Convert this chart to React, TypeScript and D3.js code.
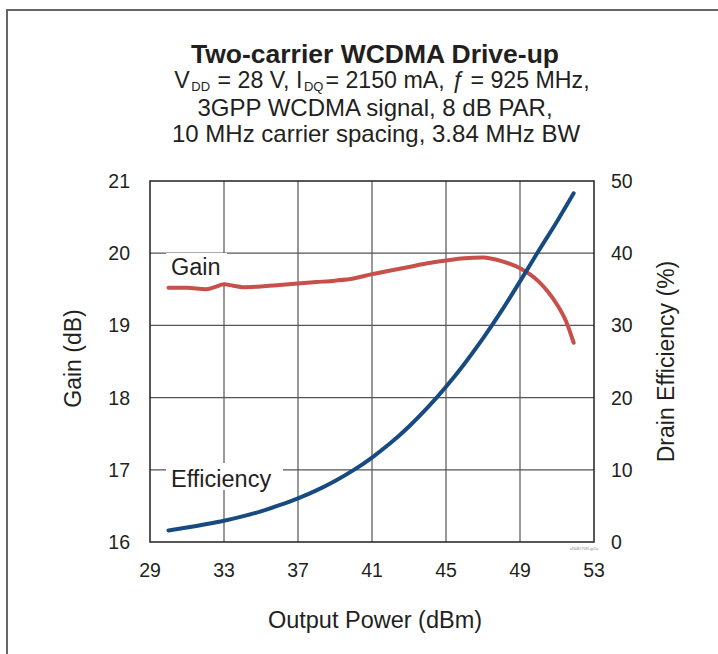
import React from "react";
import * as d3 from "d3";

const powerGain = [30, 31, 32, 32.5, 33, 33.5, 34, 35, 36, 37, 38, 39, 40, 41, 42, 43, 44, 45, 46, 47, 48, 49, 50, 50.5, 51, 51.5, 51.9];
const gainValues = [19.52, 19.52, 19.5, 19.53, 19.57, 19.55, 19.53, 19.54, 19.56, 19.58, 19.6, 19.62, 19.65, 19.71, 19.76, 19.81, 19.86, 19.9, 19.93, 19.94, 19.89, 19.79, 19.61, 19.47, 19.29, 19.05, 18.76];
const powerEff = [30, 31, 32, 33, 34, 35, 36, 37, 38, 39, 40, 41, 42, 43, 44, 45, 46, 47, 48, 49, 50, 51, 51.9];
const effValues = [1.6, 2.0, 2.45, 2.95, 3.55, 4.25, 5.1, 6.05, 7.15, 8.45, 9.95, 11.7, 13.7, 16.0, 18.6, 21.5, 24.7, 28.2, 32.0, 36.1, 40.3, 44.4, 48.3];
const xTicks = [29, 33, 37, 41, 45, 49, 53];
const gainTicks = [16, 17, 18, 19, 20, 21];
const effTicks = [0, 10, 20, 30, 40, 50];

const W = 718, H = 654;
const L = 150, R = 594, T = 181, B = 542;
const FONT = "'Liberation Sans', Arial, Helvetica, sans-serif";
const INK = "#231f20";

export default function App() {
  const x = d3.scaleLinear().domain([29, 53]).range([L, R]);
  const yG = d3.scaleLinear().domain([16, 21]).range([B, T]);
  const yE = d3.scaleLinear().domain([0, 50]).range([B, T]);
  const gainLine = d3.line<number>().x((_, i) => x(powerGain[i])).y((d) => yG(d)).curve(d3.curveMonotoneX);
  const effLine = d3.line<number>().x((_, i) => x(powerEff[i])).y((d) => yE(d)).curve(d3.curveMonotoneX);

  return (
    <svg width={W} height={H} style={{ position: "absolute", left: 0, top: 0, background: "#fff" }} fontFamily={FONT}>
      <rect x={7} y={10} width={800} height={700} fill="#fff" stroke="#666" strokeWidth={2} />
      <text x={375} y={63} textAnchor="middle" fontSize={26.5} fontWeight="bold" fill={INK}>Two-carrier WCDMA Drive-up</text>
      <text x={382} y={87.5} textAnchor="middle" fontSize={23.2} fill={INK}>
        V<tspan fontSize={13} dy={3} dx={1.5}>DD</tspan><tspan dy={-3} dx={1}> = 28 V, I</tspan><tspan fontSize={13} dy={3} dx={1.5}>DQ</tspan><tspan dy={-3} dx={2}>= 2150 mA, </tspan><tspan fontStyle="italic">ƒ</tspan><tspan> = 925 MHz,</tspan>
      </text>
      <text x={375} y={115.5} textAnchor="middle" fontSize={24} fill={INK}>3GPP WCDMA signal, 8 dB PAR,</text>
      <text x={376} y={142} textAnchor="middle" fontSize={24} fill={INK}>10 MHz carrier spacing, 3.84 MHz BW</text>

      {xTicks.slice(1, -1).map((t) => (
        <line key={"vx" + t} x1={x(t)} x2={x(t)} y1={T} y2={B} stroke="#555" strokeWidth={1.2} />
      ))}
      {gainTicks.slice(1, -1).map((t) => (
        <line key={"hy" + t} x1={L} x2={R} y1={yG(t)} y2={yG(t)} stroke="#555" strokeWidth={1.2} />
      ))}
      <rect x={166} y={253} width={61} height={30} fill="#fff" />
      <rect x={166} y={463} width={117} height={27} fill="#fff" />
      <rect x={L} y={T} width={R - L} height={B - T} fill="none" stroke={INK} strokeWidth={1.5} />

      <path d={gainLine(gainValues) || ""} fill="none" stroke="#c8504b" strokeWidth={4} strokeLinecap="round" />
      <path d={effLine(effValues) || ""} fill="none" stroke="#174a80" strokeWidth={4} strokeLinecap="round" />

      <text x={171} y={275} fontSize={23.5} fill={INK}>Gain</text>
      <text x={171} y={487} fontSize={23.5} fill={INK}>Efficiency</text>

      {gainTicks.map((t) => (
        <text key={"gl" + t} x={130} y={yG(t) + 7} textAnchor="end" fontSize={19.5} fill={INK}>{t}</text>
      ))}
      {effTicks.map((t) => (
        <text key={"el" + t} x={611} y={yE(t) + 7} textAnchor="start" fontSize={19.5} fill={INK}>{t}</text>
      ))}
      {xTicks.map((t) => (
        <text key={"xl" + t} x={x(t)} y={577} textAnchor="middle" fontSize={19.5} fill={INK}>{t}</text>
      ))}
      <text x={584} y={550} textAnchor="middle" fontSize={4} fill="#888">aN08270R-gr1a</text>

      <text x={375} y={628} textAnchor="middle" fontSize={23.5} fill={INK}>Output Power (dBm)</text>
      <text transform={`translate(81,${(T + B) / 2 - 3}) rotate(-90)`} textAnchor="middle" fontSize={23} fill={INK}>Gain (dB)</text>
      <text transform={`translate(674,${(T + B) / 2}) rotate(-90)`} textAnchor="middle" fontSize={23} fill={INK}>Drain Efficiency (%)</text>
    </svg>
  );
}
